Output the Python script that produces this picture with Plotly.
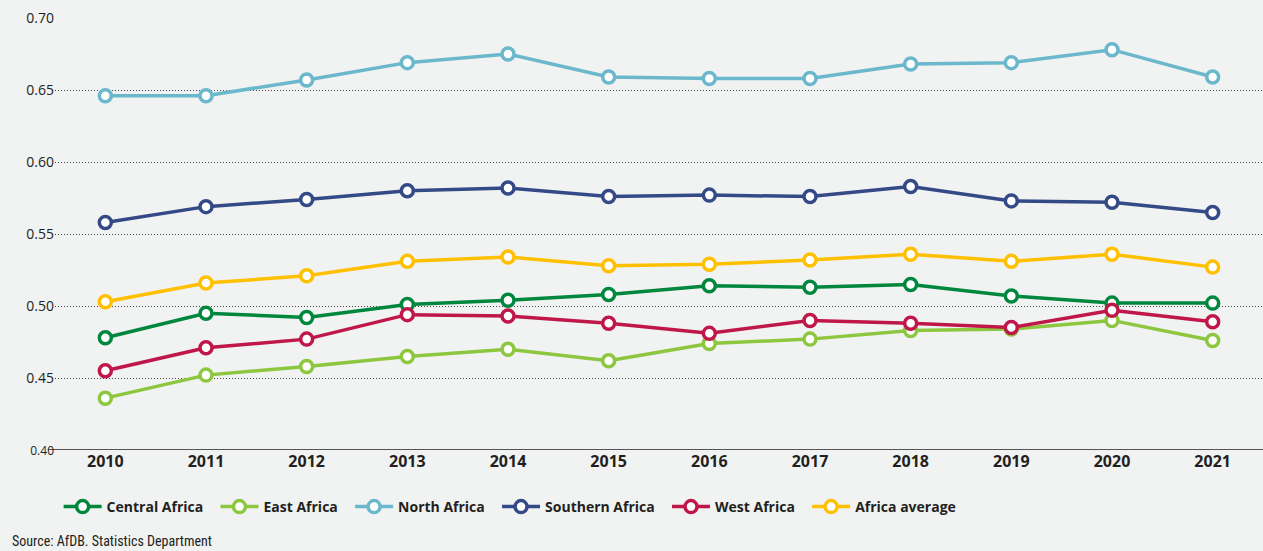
import plotly.graph_objects as go

years = ["2010", "2011", "2012", "2013", "2014", "2015", "2016", "2017", "2018", "2019", "2020", "2021"]

central_africa = [0.478, 0.495, 0.492, 0.501, 0.504, 0.508, 0.514, 0.513, 0.515, 0.507, 0.502, 0.502]
east_africa = [0.436, 0.452, 0.458, 0.465, 0.470, 0.462, 0.474, 0.477, 0.483, 0.484, 0.490, 0.476]
north_africa = [0.646, 0.646, 0.657, 0.669, 0.675, 0.659, 0.658, 0.658, 0.668, 0.669, 0.678, 0.659]
southern_africa = [0.558, 0.569, 0.574, 0.580, 0.582, 0.576, 0.577, 0.576, 0.583, 0.573, 0.572, 0.565]
west_africa = [0.455, 0.471, 0.477, 0.494, 0.493, 0.488, 0.481, 0.490, 0.488, 0.485, 0.497, 0.489]
africa_average = [0.503, 0.516, 0.521, 0.531, 0.534, 0.528, 0.529, 0.532, 0.536, 0.531, 0.536, 0.527]

series = [
    ("Central Africa", central_africa, "#00873E"),
    ("East Africa", east_africa, "#8DC63F"),
    ("North Africa", north_africa, "#6BB8CC"),
    ("Southern Africa", southern_africa, "#344A87"),
    ("West Africa", west_africa, "#C0174B"),
    ("Africa average", africa_average, "#FFC000"),
]

y_ticks = [0.40, 0.45, 0.50, 0.55, 0.60, 0.65, 0.70]
y_labels = ["<span style='font-size:12px'>0.40</span>"] + [f"{v:.2f}" for v in y_ticks[1:]]

fig = go.Figure()
for name, vals, color in series:
    fig.add_trace(go.Scatter(
        x=years, y=vals, name=name + "\u00a0\u00a0", mode="lines+markers",
        line=dict(color=color, width=3.5),
        marker=dict(symbol="circle", size=12, color="white",
                    line=dict(color=color, width=3.5)),
    ))

fig.update_layout(
    width=1263, height=551, autosize=False,
    paper_bgcolor="#F1F2F2", plot_bgcolor="#F1F2F2",
    margin=dict(l=55, r=0, t=18, b=101),
    font=dict(family="Open Sans, sans-serif", color="#231F20"),
    showlegend=True,
    legend=dict(orientation="h", x=0.003, xanchor="left", y=-0.132, yanchor="middle",
                font=dict(size=14, family="Open Sans", weight="bold", color="#231F20"),
                itemwidth=38, bgcolor="rgba(0,0,0,0)", tracegroupgap=0),
    xaxis=dict(type="category", range=[-0.5, 11.5], showgrid=False, zeroline=False,
               showline=False, ticks="",
               tickfont=dict(size=16, family="Open Sans", weight="bold", color="#231F20")),
    yaxis=dict(range=[0.40, 0.70], tickvals=y_ticks, ticktext=y_labels,
               showgrid=True, gridcolor="#444444", griddash="1px,2px", gridwidth=1,
               zeroline=False, showline=False, ticks="",
               tickfont=dict(size=14, color="#231F20")),
    shapes=[dict(type="line", xref="paper", yref="y", x0=-0.006, x1=1, y0=0.40, y1=0.40,
                 line=dict(color="#231F20", width=1.5))],
    annotations=[dict(text="Source: AfDB. Statistics Department", xref="paper", yref="paper",
                      x=-0.0375, y=-0.21, xanchor="left", yanchor="middle", showarrow=False,
                      font=dict(size=14, family="Liberation Sans Narrow, Roboto Condensed, sans-serif",
                                color="#231F20"))],
)

fig.write_html(
    "out.html",
    config={"displayModeBar": False},
    post_script="document.body.style.margin='0';document.body.style.background='#F1F2F2';document.body.style.overflow='hidden';",
)
